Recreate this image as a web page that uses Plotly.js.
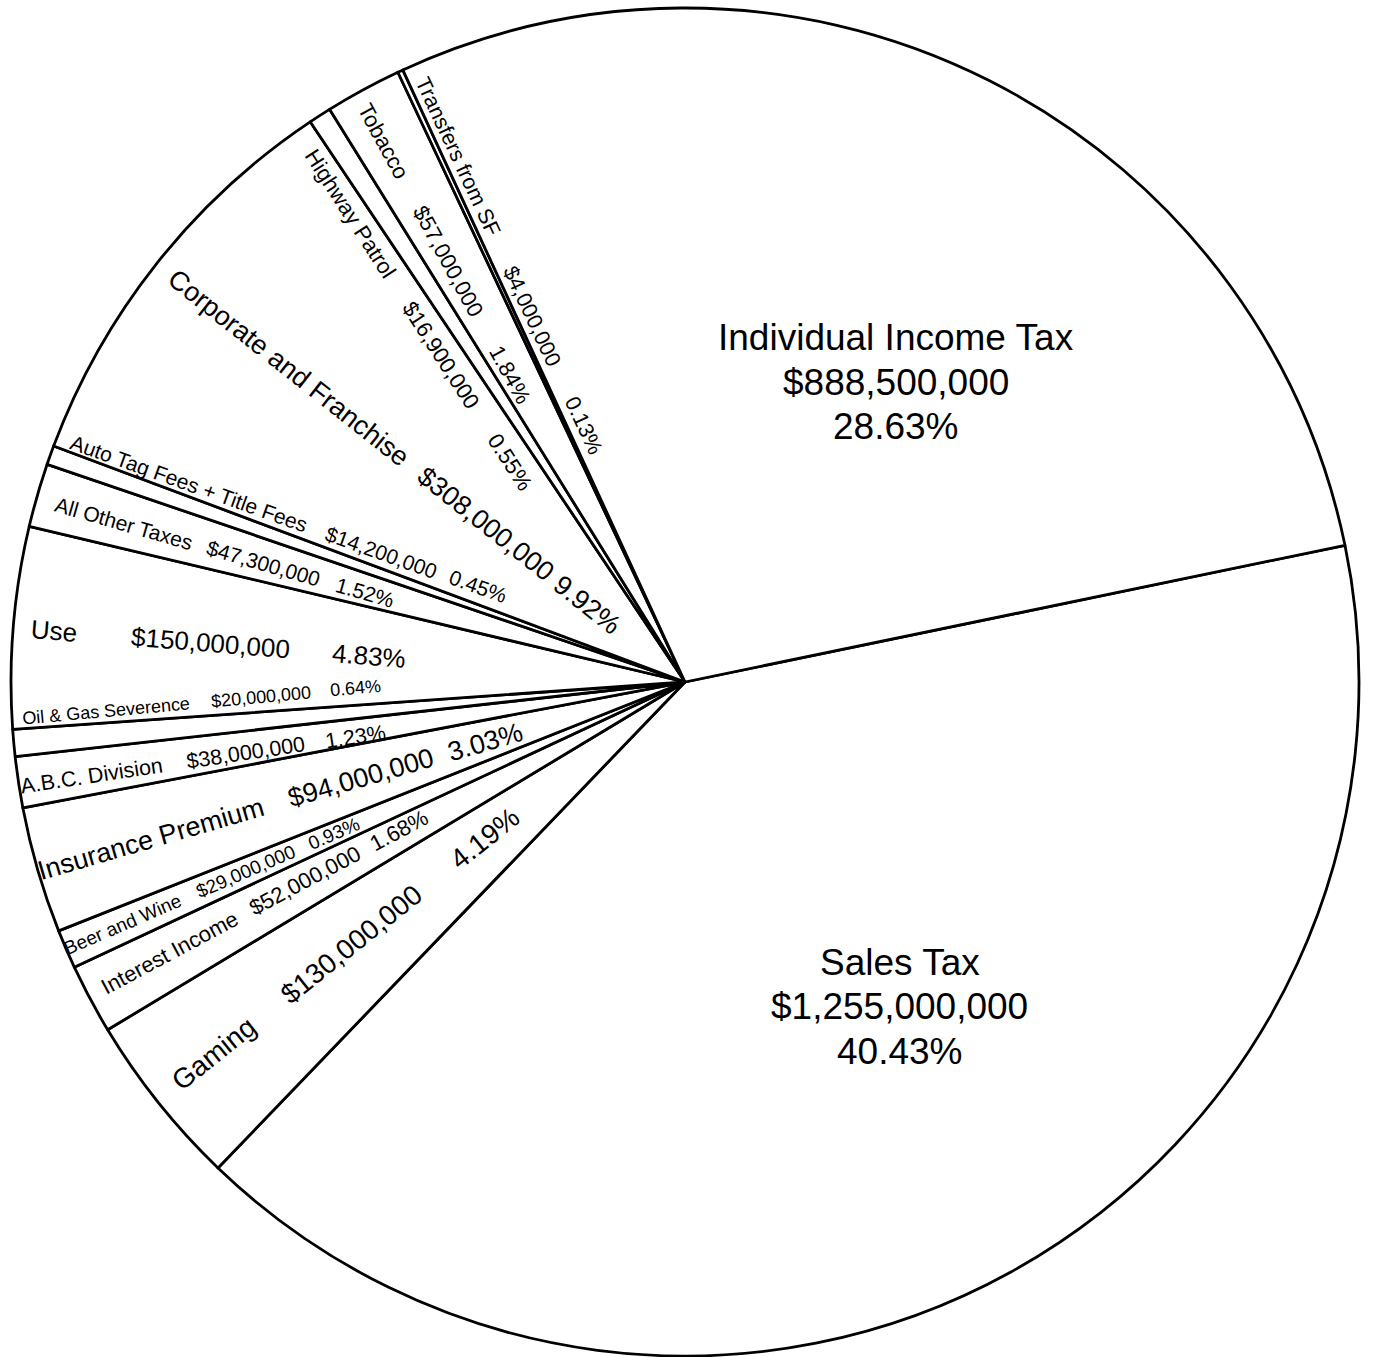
<!DOCTYPE html>
<html><head><meta charset="utf-8">
<script src="https://cdn.plot.ly/plotly-3.0.1.min.js"></script>
<style>html,body{margin:0;padding:0;background:#fff;}#chart{width:1373px;height:1357px;}</style>
</head><body><div id="chart"></div>
<script>
// ---- data ----
const categories = ["Sales Tax","Gaming","Interest Income","Beer and Wine","Insurance Premium",
  "A.B.C. Division","Oil & Gas Severence","Use","All Other Taxes","Auto Tag Fees + Title Fees",
  "Corporate and Franchise","Highway Patrol","Tobacco","Transfers from SF","Individual Income Tax"];
const amounts = [1255000000,130000000,52000000,29000000,94000000,
  38000000,20000000,150000000,47300000,14200000,
  308000000,16900000,57000000,4000000,888500000];
const percentLabels = ["40.43%","4.19%","1.68%","0.93%","3.03%",
  "1.23%","0.64%","4.83%","1.52%","0.45%",
  "9.92%","0.55%","1.84%","0.13%","28.63%"];

// ---- label placement styles (fractions of radius, perpendicular px offset, font size) ----
const labelStyle = [
  {block:true, r:0.576, d:-31, size:37},
  {r:[0.89,0.63,0.377], d:3, size:28},
  {r:[0.863,0.636,0.478], d:3, size:22},
  {r:[0.909,0.71,0.567], d:0, size:19},
  {r:[0.826,0.502,0.309], d:-2, size:27},
  {r:[0.892,0.66,0.495], d:-5, size:21.5},
  {r:[0.859,0.629,0.487], d:24, size:18},
  {r:[0.939,0.707,0.47], d:0, size:26},
  {r:[0.865,0.649,0.493], d:-3, size:21},
  {r:[0.792,0.489,0.336], d:20, size:21},
  {r:[0.75,0.377,0.185], d:0, size:27},
  {r:[0.853,0.605,0.416], d:-28, size:22},
  {r:[0.918,0.716,0.525], d:-7, size:22},
  {r:[0.85,0.587,0.409], d:16, size:21.5},
  {block:true, r:0.538, d:53, size:37}
];

const W = 1373, H = 1357;
const domX = [0.00801, 0.9898], domY = [0.00074, 0.9941];
const rotation = 78.3;
const FONT = 'Arial, "Liberation Sans", sans-serif';

function money(v){ return '$' + String(v).replace(/\B(?=(\d{3})+(?!\d))/g, ','); }

const cx = W*(domX[0]+domX[1])/2;
const cy = H*(1-(domY[0]+domY[1])/2);
const R = Math.min(W*(domX[1]-domX[0]), H*(domY[1]-domY[0]))/2;
const total = amounts.reduce((a,b)=>a+b,0);

const annotations = [];
let cum = 0;
amounts.forEach((v,i)=>{
  const thDeg = rotation + 360*(cum + v/2)/total;
  cum += v;
  const th = thDeg*Math.PI/180;
  const st = labelStyle[i];
  const texts = [categories[i], money(v), percentLabels[i]];
  const pos = (rf)=>({
    x: cx + rf*R*Math.sin(th) + st.d*Math.cos(th),
    y: cy - rf*R*Math.cos(th) + st.d*Math.sin(th)
  });
  if(st.block){
    const p = pos(st.r);
    texts.forEach((t,k)=>{
      annotations.push({xref:'paper',yref:'paper',x:p.x/W,y:1-(p.y+(k-1)*44.5)/H,
        text:t,showarrow:false,xanchor:'center',yanchor:'middle',
        font:{family:FONT,size:st.size,color:'#000'}});
    });
  } else {
    let ang = thDeg - 270;
    while(ang>180) ang-=360; while(ang<-180) ang+=360;
    texts.forEach((t,k)=>{
      const p = pos(st.r[k]);
      annotations.push({xref:'paper',yref:'paper',x:p.x/W,y:1-p.y/H,
        text:t,showarrow:false,xanchor:'center',yanchor:'middle',textangle:ang,
        font:{family:FONT,size:st.size,color:'#000'}});
    });
  }
});

const trace = {
  type:'pie', values:amounts, labels:categories, sort:false, direction:'clockwise',
  rotation:rotation, textinfo:'none', hoverinfo:'none', showlegend:false,
  domain:{x:domX,y:domY},
  marker:{colors:categories.map(()=>'#ffffff'), line:{color:'#000000', width:2.8}}
};
Plotly.newPlot('chart',[trace],{
  width:W, height:H, margin:{l:0,r:0,t:0,b:0}, paper_bgcolor:'#fff', plot_bgcolor:'#fff',
  showlegend:false, annotations:annotations
},{staticPlot:true});
</script></body></html>
